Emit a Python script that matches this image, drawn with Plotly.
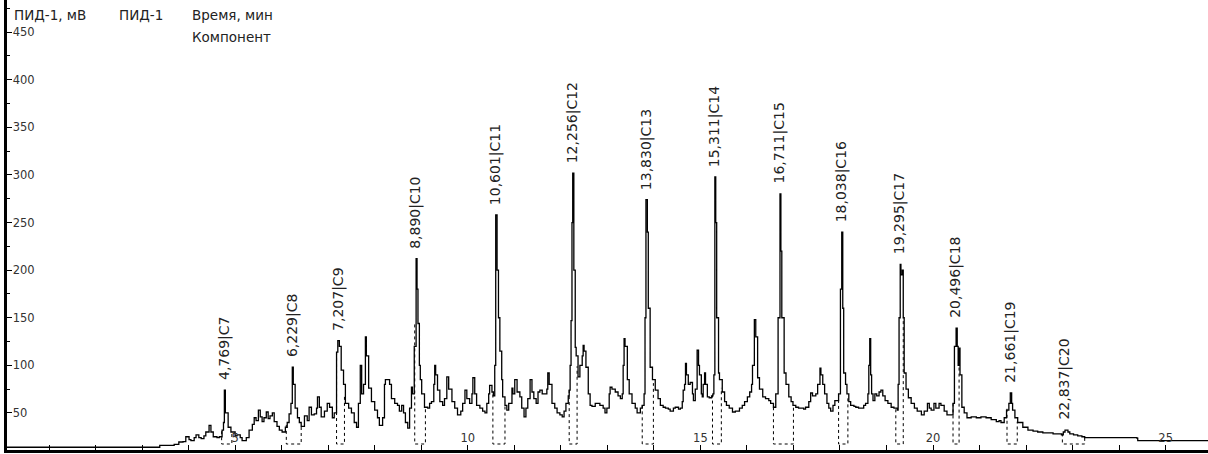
import numpy as np
import plotly.graph_objects as go

# ---- chromatogram trace (time, min / signal, mV) ----
time_min = [
    0.09, 3.36, 3.38, 3.69, 3.79, 3.88, 3.94, 4.01, 4.05, 4.12,
    4.16, 4.22, 4.27, 4.33, 4.37, 4.44, 4.48, 4.53, 4.61, 4.66,
    4.72, 4.75, 4.769, 4.79, 4.85, 4.91, 4.96, 5.00, 5.04, 5.11,
    5.15, 5.24, 5.30, 5.37, 5.41, 5.45, 5.50, 5.54, 5.58, 5.62,
    5.67, 5.71, 5.75, 5.80, 5.84, 5.90, 5.95, 6.01, 6.08, 6.12,
    6.16, 6.20, 6.229, 6.25, 6.29, 6.34, 6.38, 6.42, 6.49, 6.55,
    6.59, 6.64, 6.70, 6.75, 6.77, 6.81, 6.85, 6.92, 6.98, 7.03,
    7.09, 7.13, 7.18, 7.207, 7.24, 7.28, 7.33, 7.37, 7.44, 7.50,
    7.56, 7.61, 7.65, 7.69, 7.72, 7.76, 7.80, 7.82, 7.87, 7.93,
    8.00, 8.06, 8.10, 8.17, 8.21, 8.23, 8.28, 8.32, 8.36, 8.43,
    8.49, 8.53, 8.58, 8.62, 8.66, 8.71, 8.75, 8.79, 8.81, 8.85,
    8.890, 8.91, 8.93, 8.96, 8.98, 9.01, 9.07, 9.14, 9.18, 9.22,
    9.27, 9.29, 9.31, 9.35, 9.40, 9.46, 9.50, 9.55, 9.59, 9.66,
    9.72, 9.78, 9.85, 9.89, 9.94, 9.98, 10.04, 10.09, 10.11, 10.15,
    10.19, 10.26, 10.32, 10.37, 10.41, 10.45, 10.47, 10.52, 10.55, 10.58,
    10.601, 10.63, 10.66, 10.69, 10.73, 10.75, 10.80, 10.84, 10.88, 10.95,
    10.97, 11.01, 11.06, 11.12, 11.16, 11.21, 11.25, 11.29, 11.34, 11.38,
    11.42, 11.47, 11.51, 11.55, 11.60, 11.66, 11.70, 11.72, 11.75, 11.81,
    11.87, 11.92, 11.98, 12.03, 12.07, 12.11, 12.16, 12.18, 12.20, 12.22,
    12.24, 12.256, 12.28, 12.31, 12.33, 12.37, 12.41, 12.46, 12.48, 12.50,
    12.54, 12.59, 12.63, 12.67, 12.74, 12.80, 12.84, 12.91, 12.95, 12.99,
    13.04, 13.06, 13.10, 13.17, 13.23, 13.28, 13.32, 13.34, 13.36, 13.38,
    13.43, 13.47, 13.53, 13.60, 13.64, 13.71, 13.75, 13.79, 13.81, 13.830,
    13.86, 13.88, 13.92, 13.97, 14.03, 14.09, 14.14, 14.20, 14.25, 14.31,
    14.35, 14.42, 14.46, 14.53, 14.57, 14.61, 14.63, 14.66, 14.68, 14.70,
    14.74, 14.78, 14.83, 14.85, 14.89, 14.93, 14.96, 14.98, 15.02, 15.04,
    15.06, 15.09, 15.11, 15.15, 15.19, 15.24, 15.27, 15.29, 15.311, 15.33,
    15.35, 15.39, 15.41, 15.47, 15.52, 15.56, 15.62, 15.69, 15.75, 15.84,
    15.90, 15.95, 16.01, 16.06, 16.10, 16.12, 16.16, 16.19, 16.23, 16.27,
    16.34, 16.40, 16.47, 16.51, 16.57, 16.62, 16.67, 16.711, 16.73, 16.75,
    16.80, 16.84, 16.90, 16.95, 16.99, 17.05, 17.11, 17.16, 17.22, 17.26,
    17.33, 17.37, 17.41, 17.48, 17.52, 17.57, 17.59, 17.63, 17.67, 17.72,
    17.76, 17.80, 17.85, 17.89, 17.93, 17.97, 18.01, 18.038, 18.06, 18.08,
    18.12, 18.15, 18.19, 18.23, 18.30, 18.34, 18.40, 18.45, 18.51, 18.55,
    18.60, 18.62, 18.64, 18.66, 18.68, 18.71, 18.75, 18.79, 18.84, 18.88,
    18.92, 18.97, 19.03, 19.10, 19.16, 19.23, 19.25, 19.27, 19.295, 19.31,
    19.34, 19.36, 19.38, 19.42, 19.47, 19.53, 19.60, 19.66, 19.75, 19.81,
    19.88, 19.92, 19.96, 20.02, 20.06, 20.13, 20.17, 20.24, 20.30, 20.39,
    20.43, 20.46, 20.496, 20.52, 20.54, 20.56, 20.58, 20.62, 20.67, 20.73,
    20.82, 20.93, 21.03, 21.14, 21.25, 21.36, 21.42, 21.46, 21.53, 21.58,
    21.63, 21.661, 21.69, 21.71, 21.76, 21.82, 21.93, 22.04, 22.15, 22.25,
    22.36, 22.58, 22.76, 22.80, 22.837, 22.90, 22.94, 23.02, 23.11, 23.20,
    23.26, 24.38, 24.40, 25.95,
]
signal_mv = [
    14, 14, 16, 17, 19.5, 20, 25, 22, 21, 24,
    27, 24, 23, 26, 30, 37, 30, 25, 24, 25,
    32, 40, 74, 50, 35, 30, 30, 26, 27, 24,
    21, 24, 32, 38, 45, 42, 53, 46, 41, 45,
    51, 44, 47, 50, 41, 36, 32, 30, 35, 40,
    49, 60, 98, 80, 55, 45, 40, 36, 47, 42,
    56, 48, 49, 55, 67, 56, 46, 52, 60, 56,
    45, 50, 114, 126, 120, 95, 80, 60, 55, 50,
    40, 35, 60, 100, 70, 80, 130, 110, 76, 62,
    53, 45, 37, 45, 80, 85, 85, 80, 65, 60,
    58, 52, 58, 50, 40, 34, 55, 77, 70, 120,
    212, 180, 144, 100, 85, 70, 56, 55, 60, 62,
    80, 100, 90, 74, 62, 58, 65, 88, 75, 62,
    55, 48, 52, 60, 74, 65, 60, 70, 87, 70,
    58, 55, 52, 50, 60, 70, 79, 72, 68, 100,
    258, 200, 150, 115, 85, 67, 58, 53, 60, 76,
    70, 85, 72, 67, 55, 46, 55, 65, 85, 72,
    65, 60, 72, 74, 70, 70, 75, 92, 80, 60,
    55, 50, 48, 46, 52, 60, 68, 74, 100, 147,
    250, 302, 200, 119, 110, 88, 100, 110, 121, 115,
    98, 70, 58, 57, 60, 60, 58, 55, 50, 55,
    70, 77, 75, 72, 68, 65, 70, 100, 128, 120,
    85, 70, 60, 55, 50, 55, 58, 70, 150, 274,
    240, 160, 98, 85, 74, 65, 58, 56, 55, 54,
    52, 55, 56, 54, 55, 62, 74, 80, 102, 90,
    80, 82, 70, 63, 75, 116, 100, 90, 70, 67,
    80, 92, 80, 67, 66, 68, 70, 90, 298, 250,
    150, 92, 85, 72, 62, 58, 55, 51, 52, 55,
    58, 62, 67, 72, 80, 100, 148, 130, 87, 75,
    67, 65, 63, 60, 56, 70, 150, 280, 220, 150,
    92, 80, 67, 62, 58, 56, 55, 55, 54, 56,
    62, 71, 68, 70, 80, 97, 90, 80, 70, 60,
    55, 52, 58, 63, 63, 70, 180, 240, 160, 92,
    80, 70, 62, 58, 57, 56, 55, 55, 58, 60,
    70, 100, 128, 90, 70, 63, 70, 68, 72, 74,
    68, 63, 60, 56, 55, 53, 80, 150, 206, 195,
    200, 150, 92, 75, 66, 60, 55, 52, 48, 52,
    60, 55, 53, 60, 55, 60, 58, 52, 48, 48,
    60, 120, 139, 120, 100, 118, 90, 56, 50, 45,
    46, 45, 46, 45, 43, 41, 42, 40, 45, 53,
    60, 71, 60, 53, 45, 40, 35, 32, 31, 30,
    29, 28, 27, 30, 32, 30, 28, 27, 26, 25,
    24, 23.5, 21, 21,
]
assert len(time_min) == len(signal_mv)

# ---- identified components ----
peak_times = [4.769, 6.229, 7.207, 8.890, 10.601, 12.256, 13.830,
              15.311, 16.711, 18.038, 19.295, 20.496, 21.661, 22.837]
peak_names = ["C7", "C8", "C9", "C10", "C11", "C12", "C13",
              "C14", "C15", "C16", "C17", "C18", "C19", "C20"]

# ---- integration windows (start / end, min) ----
window_start = [4.71, 6.10, 7.18, 8.86, 10.54, 12.18, 13.75,
                15.26, 16.57, 17.97, 19.20, 20.43, 21.59, 22.78]
window_end = [4.93, 6.42, 7.35, 9.09, 10.80, 12.35, 13.99,
              15.45, 17.00, 18.17, 19.36, 20.56, 21.81, 23.26]
window_floor_mv = 17.4

# ---- axes ----
x_range = [0.097, 25.91]
y_range = [11.1, 483.8]
x_ticks = list(range(1, 26))
x_tick_text = [str(v) if v % 5 == 0 else "" for v in x_ticks]
y_ticks = [50, 100, 150, 200, 250, 300, 350, 400, 450]

header_texts = ["ПИД-1, мВ", "ПИД-1", "Время, мин", "Компонент"]

FONT = "DejaVu Sans"
TXT = "#222222"

t_arr = np.array(time_min)
v_arr = np.array(signal_mv)

fig = go.Figure()

# integration windows as dotted boxes
bx, by = [], []
for s, e in zip(window_start, window_end):
    bx += [s, s, e, e, None]
    by += [float(np.interp(s, t_arr, v_arr)), window_floor_mv, window_floor_mv,
           float(np.interp(e, t_arr, v_arr)), None]
fig.add_trace(go.Scatter(x=bx, y=by, mode="lines",
                         line=dict(color="black", width=1, dash="dot"),
                         hoverinfo="skip", showlegend=False))

# the signal (detector output is sampled, drawn as steps)
fig.add_trace(go.Scatter(x=time_min, y=signal_mv, mode="lines",
                         line=dict(color="black", width=1.3, shape="hv"),
                         showlegend=False))

# peak labels
for t, name in zip(peak_times, peak_names):
    label = f"{t:.3f}".replace(".", ",") + "|" + name
    fig.add_annotation(x=t, y=float(np.interp(t, t_arr, v_arr)),
                       text=label, textangle=-90, showarrow=False,
                       xanchor="center", yanchor="bottom", yshift=8,
                       font=dict(family=FONT, size=14, color=TXT))

# header texts
plot_w = 1201
header_px = [12, 117, 190, 190]
header_py = [15, 15, 15, 37]
for txt, px, py in zip(header_texts, header_px, header_py):
    fig.add_annotation(xref="paper", yref="paper",
                       x=(px - 7) / plot_w, y=1 - py / 450,
                       text=txt, showarrow=False, xanchor="left", yanchor="middle",
                       font=dict(family=FONT, size=13.5, color=TXT))

fig.update_layout(
    width=1208, height=454,
    margin=dict(l=7, r=0, t=0, b=4),
    paper_bgcolor="white", plot_bgcolor="white",
    font=dict(family=FONT, size=11.5, color=TXT),
    xaxis=dict(range=x_range, showgrid=False, zeroline=False,
               showline=True, linecolor="black", linewidth=3,
               ticks="inside", ticklen=5, tickcolor="black", tickwidth=1,
               tickvals=x_ticks, ticktext=x_tick_text,
               ticklabelposition="inside",
               tickfont=dict(family=FONT, size=11.5, color="#333333")),
    yaxis=dict(range=y_range, showgrid=False, zeroline=False,
               showline=True, linecolor="black", linewidth=3,
               ticks="inside", ticklen=5, tickcolor="black", tickwidth=1,
               tickvals=y_ticks, ticklabelposition="inside",
               tickfont=dict(family=FONT, size=11.5, color="#333333"),
               minor=dict(dtick=25, tick0=0, ticks="inside", ticklen=3,
                          tickcolor="black")),
)

fig.write_html("out.html")
